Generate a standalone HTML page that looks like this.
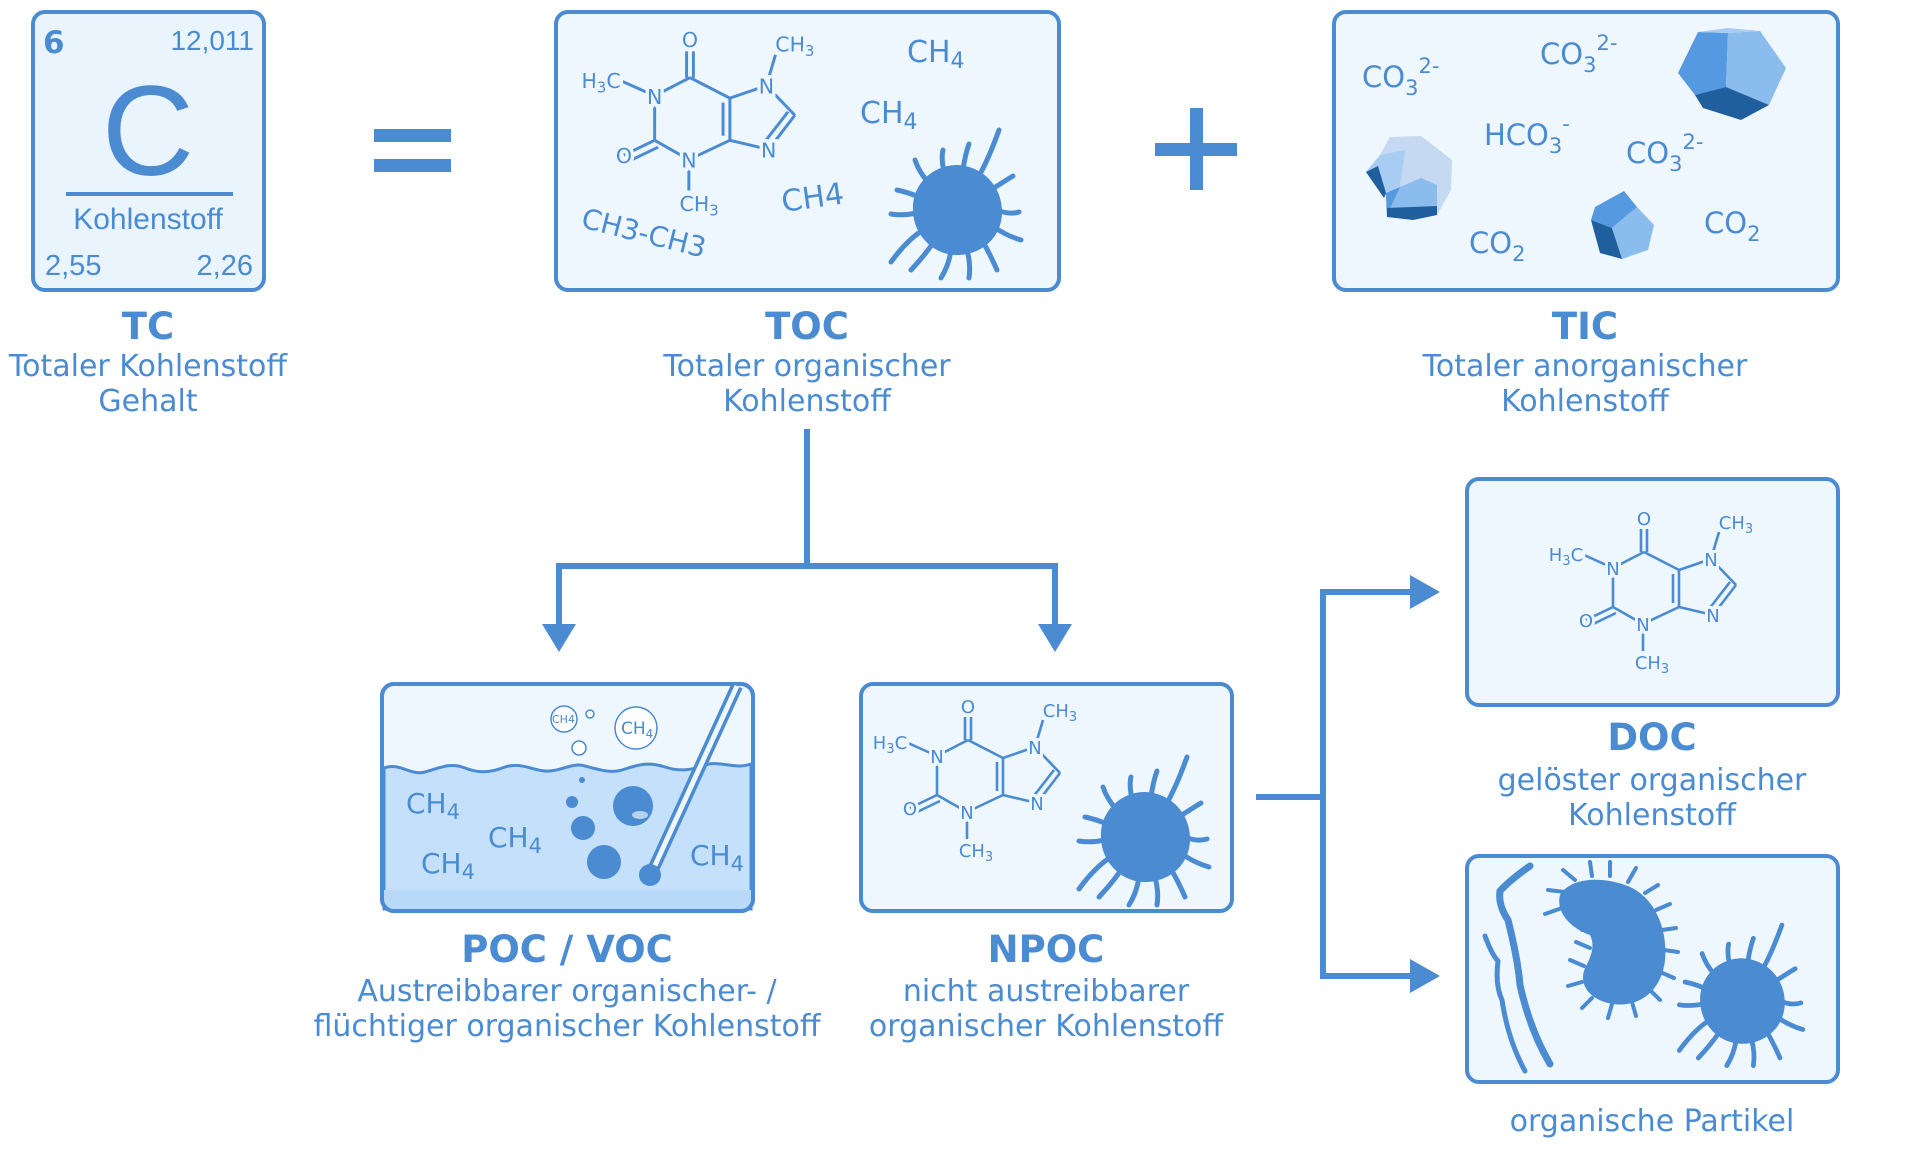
<!DOCTYPE html>
<html><head><meta charset="utf-8"><style>
html,body{margin:0;padding:0;background:#fff;}
svg{display:block;}
text{font-family:"DejaVu Sans","Liberation Sans",sans-serif;fill:#4a8bd2;}
.t{font-weight:bold;font-size:37px;text-anchor:middle;}
.d{font-size:30px;text-anchor:middle;}
.a{font-size:18px;text-anchor:middle;stroke:#eef6fe;stroke-width:6px;paint-order:stroke;}
.box{fill:#eef6fe;stroke:#4a8bd2;stroke-width:4;}
</style></head><body>
<svg width="1920" height="1159" viewBox="0 0 1920 1159" xmlns="http://www.w3.org/2000/svg">
<defs>
<g id="caf" fill="none" stroke="#4a8bd2" stroke-width="2.6">
 <line x1="-3" y1="10" x2="-3" y2="33"/><line x1="3" y1="10" x2="3" y2="33"/>
 <line x1="0" y1="33" x2="-31" y2="49"/><line x1="-31" y1="49" x2="-31" y2="88"/>
 <line x1="-31" y1="88" x2="-1" y2="105"/><line x1="-1" y1="105" x2="35" y2="88"/>
 <line x1="35" y1="88" x2="35" y2="51"/><line x1="29" y1="84" x2="29" y2="55"/>
 <line x1="35" y1="51" x2="0" y2="33"/><line x1="35" y1="51" x2="67" y2="40"/>
 <line x1="67" y1="40" x2="92" y2="66"/><line x1="92" y1="66" x2="69" y2="96"/><line x1="86" y1="63" x2="65" y2="90"/>
 <line x1="69" y1="96" x2="35" y2="88"/>
 <line x1="-31" y1="88" x2="-58" y2="101"/><line x1="-28" y1="94" x2="-55" y2="107"/>
 <line x1="-31" y1="49" x2="-60" y2="36"/><line x1="67" y1="40" x2="75" y2="13"/>
 <line x1="-1" y1="105" x2="-1" y2="132"/>
</g>
<g id="mic" fill="#4a8bd2" stroke="#4a8bd2" stroke-width="5" stroke-linecap="round">
 <path d="M0,-45 C24,-44 44,-26 45,0 C46,26 26,44 2,45 C-24,46 -44,24 -44,0 C-45,-26 -24,-45 0,-45Z" stroke="none"/>
 <g fill="none">
 <path d="M40,0 Q52,5 62,2"/><path d="M37,17 Q50,26 64,30"/><path d="M26,32 Q34,46 40,60"/>
 <path d="M10,40 Q14,55 12,68"/><path d="M-6,40 Q-8,55 -16,68"/><path d="M-24,33 Q-32,45 -46,60"/>
 <path d="M-34,20 Q-50,30 -66,52"/><path d="M-40,3 Q-55,6 -66,4"/><path d="M-38,-13 Q-50,-18 -60,-20"/>
 <path d="M-29,-28 Q-38,-38 -42,-50"/><path d="M-13,-38 Q-16,-52 -14,-60"/><path d="M6,-40 Q8,-55 12,-66"/>
 <path d="M22,-34 Q32,-52 42,-80"/><path d="M34,-20 Q46,-28 56,-34"/>
 </g>
</g>
</defs>

<!-- TC -->
<rect class="box" x="33" y="12" width="231" height="278" rx="12" style="fill:#eaf4fd"/>
<text x="43" y="53" style="font-weight:bold;font-size:31px">6</text>
<text x="254" y="50" style="font-size:28px;text-anchor:end;font-family:'Liberation Sans',sans-serif">12,011</text>
<text x="148" y="175" style="font-size:128px;text-anchor:middle;font-family:'Liberation Sans',sans-serif">C</text>
<rect x="66" y="192" width="167" height="4" fill="#4a8bd2"/>
<text x="148" y="229" style="font-size:30px;text-anchor:middle;font-family:'Liberation Sans',sans-serif">Kohlenstoff</text>
<text x="45" y="275" style="font-size:29px;font-family:'Liberation Sans',sans-serif">2,55</text>
<text x="253" y="275" style="font-size:29px;text-anchor:end;font-family:'Liberation Sans',sans-serif">2,26</text>
<text class="t" x="148" y="339">TC</text>
<text class="d" x="148" y="376">Totaler Kohlenstoff</text>
<text class="d" x="148" y="411">Gehalt</text>

<!-- = -->
<rect x="374" y="129" width="77" height="13" fill="#4a8bd2"/>
<rect x="374" y="159" width="77" height="13" fill="#4a8bd2"/>

<!-- TOC -->
<rect class="box" x="556" y="12" width="503" height="278" rx="12"/>
<g transform="translate(690,40) scale(1.14)">
 <use href="#caf"/>
 <text class="a" x="0" y="6">O</text><text class="a" x="-31" y="56">N</text><text class="a" x="-1" y="112">N</text>
 <text class="a" x="67" y="47">N</text><text class="a" x="69" y="103">N</text><text class="a" x="-58" y="108">O</text>
 <text class="a" x="-78" y="42">H<tspan dy="4" font-size="13">3</tspan><tspan dy="-4">C</tspan></text>
 <text class="a" x="92" y="10">CH<tspan dy="4" font-size="13">3</tspan></text>
 <text class="a" x="8" y="150">CH<tspan dy="4" font-size="13">3</tspan></text>
</g>
<text x="907" y="62" style="font-size:30px">CH<tspan dy="6" font-size="22">4</tspan></text>
<text x="860" y="123" style="font-size:30px">CH<tspan dy="6" font-size="22">4</tspan></text>
<text x="783" y="212" style="font-size:30px" transform="rotate(-8 783 212)">CH4</text>
<text x="580" y="227" style="font-size:28px" transform="rotate(14 580 227)">CH3-CH3</text>
<use href="#mic" transform="translate(957,210)"/>
<text class="t" x="807" y="339">TOC</text>
<text class="d" x="807" y="376">Totaler organischer</text>
<text class="d" x="807" y="411">Kohlenstoff</text>

<!-- + -->
<rect x="1155" y="143" width="82" height="13" fill="#4a8bd2"/>
<rect x="1190" y="108" width="13" height="82" fill="#4a8bd2"/>

<!-- TIC -->
<rect class="box" x="1334" y="12" width="504" height="278" rx="12"/>
<text x="1362" y="87" style="font-size:29px">CO<tspan dy="8" font-size="21">3</tspan><tspan dy="-22" font-size="21">2-</tspan></text>
<text x="1540" y="64" style="font-size:29px">CO<tspan dy="8" font-size="21">3</tspan><tspan dy="-22" font-size="21">2-</tspan></text>
<text x="1484" y="145" style="font-size:29px">HCO<tspan dy="8" font-size="21">3</tspan><tspan dy="-22" font-size="21">-</tspan></text>
<text x="1626" y="163" style="font-size:29px">CO<tspan dy="8" font-size="21">3</tspan><tspan dy="-22" font-size="21">2-</tspan></text>
<text x="1469" y="253" style="font-size:29px">CO<tspan dy="8" font-size="21">2</tspan></text>
<text x="1704" y="233" style="font-size:29px">CO<tspan dy="8" font-size="21">2</tspan></text>
<polygon points="1698,32 1728,33 1726,87 1695,95 1678,73" fill="#5599e0"/>
<polygon points="1728,33 1760,31 1786,68 1769,105 1726,87" fill="#8bbcee"/>
<polygon points="1695,95 1726,87 1769,105 1741,120 1703,108" fill="#1f5f9e"/>
<polygon points="1698,32 1728,28 1760,31 1728,33" fill="#a9cdf2"/>
<polygon points="1390,137 1421,136 1452,160 1451,190 1437,215 1413,220 1387,217 1385,195 1366,172 1380,155" fill="#c5daf2"/>
<polygon points="1380,155 1405,150 1400,187 1386,193 1366,172" fill="#a9cdf2"/>
<polygon points="1400,187 1421,178 1437,185 1437,213 1387,215 1386,193" fill="#8bbcee"/>
<polygon points="1386,193 1400,187 1387,215" fill="#5599e0"/>
<polygon points="1387,208 1437,206 1437,215 1413,220 1387,217" fill="#1f5f9e"/>
<polygon points="1366,172 1378,166 1386,193 1384,198" fill="#1f5f9e"/>
<polygon points="1595,207 1624,191 1637,207 1612,228 1591,220" fill="#5599e0"/>
<polygon points="1637,207 1654,225 1648,250 1622,259 1612,228" fill="#8bbcee"/>
<polygon points="1591,220 1612,228 1622,259 1600,253" fill="#1f5f9e"/>
<text class="t" x="1585" y="339">TIC</text>
<text class="d" x="1585" y="376">Totaler anorganischer</text>
<text class="d" x="1585" y="411">Kohlenstoff</text>

<!-- connectors -->
<g fill="none" stroke="#4a8bd2" stroke-width="6">
 <polyline points="807,429 807,566"/>
 <polyline points="559,628 559,566 1055,566 1055,628"/>
 <polyline points="1256,797 1323,797"/>
 <polyline points="1415,592 1323,592 1323,976 1415,976"/>
</g>
<polygon points="542,624 576,624 559,652" fill="#4a8bd2"/>
<polygon points="1038,624 1072,624 1055,652" fill="#4a8bd2"/>
<polygon points="1410,575 1410,609 1440,592" fill="#4a8bd2"/>
<polygon points="1410,959 1410,993 1440,976" fill="#4a8bd2"/>

<!-- POC -->
<rect class="box" x="382" y="684" width="371" height="227" rx="12"/>
<path d="M384,768 C400,762 410,776 425,772 C440,768 450,762 465,768 C480,774 492,772 505,767 C520,762 532,770 545,771 C560,772 572,762 585,766 C600,770 612,774 625,769 C640,764 650,762 665,767 C680,772 692,770 705,765 C720,760 735,770 751,764 L751,909 L384,909Z" fill="#c5e0fb" stroke="#4a8bd2" stroke-width="3"/>
<rect x="384" y="890" width="367" height="19" fill="#b9d9f8"/>
<rect x="382" y="684" width="371" height="227" rx="12" fill="none" stroke="#4a8bd2" stroke-width="4"/>
<line x1="737" y1="686" x2="652" y2="872" stroke="#4a8bd2" stroke-width="12"/>
<line x1="737" y1="686" x2="652" y2="872" stroke="#eef6fe" stroke-width="5"/>
<circle cx="650" cy="875" r="11" fill="#4a8bd2"/>
<circle cx="633" cy="806" r="20" fill="#4a8bd2"/><ellipse cx="640" cy="815" rx="8" ry="4" fill="#cfe4fa" opacity=".8"/>
<circle cx="583" cy="828" r="12" fill="#4a8bd2"/>
<circle cx="604" cy="862" r="17" fill="#4a8bd2"/>
<circle cx="572" cy="802" r="6" fill="#4a8bd2"/>
<circle cx="582" cy="780" r="3" fill="#4a8bd2"/>
<g fill="#fff" stroke="#4a8bd2" stroke-width="1.5">
 <circle cx="564" cy="719" r="13"/><circle cx="636" cy="728" r="21"/><circle cx="579" cy="748" r="7"/><circle cx="590" cy="714" r="4"/>
</g>
<text x="552" y="723" style="font-size:11px">CH4</text>
<text x="621" y="734" style="font-size:17px">CH<tspan dy="4" font-size="12">4</tspan></text>
<text x="406" y="813" style="font-size:28px">CH<tspan dy="6" font-size="21">4</tspan></text>
<text x="488" y="847" style="font-size:28px">CH<tspan dy="6" font-size="21">4</tspan></text>
<text x="421" y="873" style="font-size:28px">CH<tspan dy="6" font-size="21">4</tspan></text>
<text x="690" y="865" style="font-size:28px">CH<tspan dy="6" font-size="21">4</tspan></text>
<text class="t" x="567" y="962">POC / VOC</text>
<text class="d" x="567" y="1001">Austreibbarer organischer- /</text>
<text class="d" x="567" y="1036">flüchtiger organischer Kohlenstoff</text>

<!-- NPOC -->
<rect class="box" x="861" y="684" width="371" height="227" rx="12"/>
<g transform="translate(968,707)">
 <use href="#caf"/>
 <text class="a" x="0" y="6">O</text><text class="a" x="-31" y="56">N</text><text class="a" x="-1" y="112">N</text>
 <text class="a" x="67" y="47">N</text><text class="a" x="69" y="103">N</text><text class="a" x="-58" y="108">O</text>
 <text class="a" x="-78" y="42">H<tspan dy="4" font-size="13">3</tspan><tspan dy="-4">C</tspan></text>
 <text class="a" x="92" y="10">CH<tspan dy="4" font-size="13">3</tspan></text>
 <text class="a" x="8" y="150">CH<tspan dy="4" font-size="13">3</tspan></text>
</g>
<use href="#mic" transform="translate(1145,837)"/>
<text class="t" x="1046" y="962">NPOC</text>
<text class="d" x="1046" y="1001">nicht austreibbarer</text>
<text class="d" x="1046" y="1036">organischer Kohlenstoff</text>

<!-- DOC -->
<rect class="box" x="1467" y="479" width="371" height="226" rx="12"/>
<g transform="translate(1644,519)">
 <use href="#caf"/>
 <text class="a" x="0" y="6">O</text><text class="a" x="-31" y="56">N</text><text class="a" x="-1" y="112">N</text>
 <text class="a" x="67" y="47">N</text><text class="a" x="69" y="103">N</text><text class="a" x="-58" y="108">O</text>
 <text class="a" x="-78" y="42">H<tspan dy="4" font-size="13">3</tspan><tspan dy="-4">C</tspan></text>
 <text class="a" x="92" y="10">CH<tspan dy="4" font-size="13">3</tspan></text>
 <text class="a" x="8" y="150">CH<tspan dy="4" font-size="13">3</tspan></text>
</g>
<text class="t" x="1652" y="750">DOC</text>
<text class="d" x="1652" y="790">gelöster organischer</text>
<text class="d" x="1652" y="825">Kohlenstoff</text>

<!-- Particles -->
<rect class="box" x="1467" y="856" width="371" height="226" rx="12"/>
<g fill="none" stroke="#4a8bd2" stroke-linecap="round">
 <path d="M1530,866 Q1510,880 1500,891 Q1498,905 1508,920 Q1518,960 1520,985 Q1530,1030 1550,1064" stroke-width="7"/>
 <path d="M1485,936 Q1492,955 1498,961 Q1495,985 1502,1000 Q1508,1040 1525,1071" stroke-width="5"/>
</g>
<path d="M1560,895 C1570,878 1600,876 1625,885 C1655,895 1668,930 1665,960 C1662,990 1640,1008 1612,1004 C1590,1000 1578,985 1585,968 C1592,955 1595,945 1590,935 C1575,930 1555,915 1560,895Z" fill="#4a8bd2"/>
<g fill="none" stroke="#4a8bd2" stroke-width="4" stroke-linecap="round">
 <path d="M1565,892 L1548,890"/><path d="M1562,908 L1545,914"/><path d="M1575,880 L1563,870"/><path d="M1592,876 L1590,862"/>
 <path d="M1610,876 L1610,862"/><path d="M1628,882 L1636,868"/><path d="M1645,893 L1658,885"/><path d="M1656,910 L1670,904"/>
 <path d="M1662,930 L1676,928"/><path d="M1664,950 L1678,952"/><path d="M1660,972 L1674,978"/><path d="M1650,990 L1660,1000"/>
 <path d="M1632,1002 L1636,1016"/><path d="M1612,1004 L1608,1018"/><path d="M1592,998 L1582,1008"/><path d="M1582,982 L1568,986"/>
 <path d="M1584,966 L1570,960"/><path d="M1590,948 L1576,942"/><path d="M1582,930 L1574,920"/>
</g>
<use href="#mic" transform="translate(1742,1001) scale(0.95)"/>
<text class="d" x="1652" y="1131">organische Partikel</text>
</svg>
</body></html>
